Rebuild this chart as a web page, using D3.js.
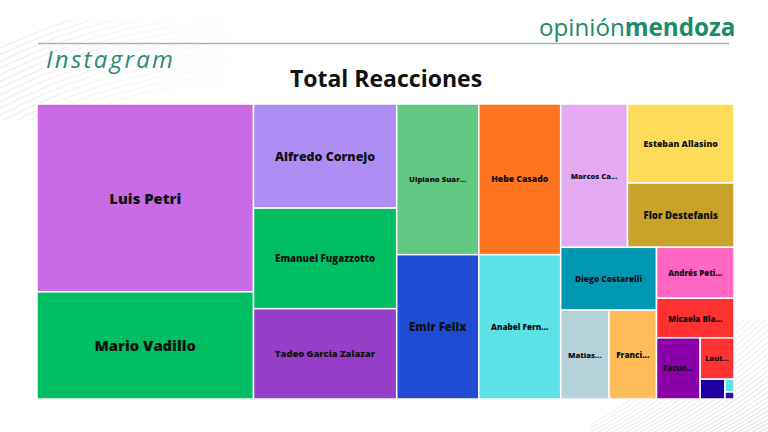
<!DOCTYPE html>
<html>
<head>
<meta charset="utf-8">
<script src="https://cdn.jsdelivr.net/npm/d3@7"></script>
<style>
  html, body { margin: 0; padding: 0; background: #ffffff; }
  svg { display: block; }
</style>
</head>
<body>
<svg id="chart" width="768" height="432"></svg>
<script>
// ---- data ----
const candidates = [
  "Luis Petri", "Mario Vadillo", "Alfredo Cornejo", "Emanuel Fugazzotto",
  "Tadeo Garcia Zalazar", "Ulpiano Suar...", "Hebe Casado", "Emir Felix",
  "Anabel Fern...", "Marcos Ca...", "Esteban Allasino", "Flor Destefanis",
  "Diego Costarelli", "Matias...", "Franci...", "Andrés Peti...",
  "Micaela Bla...", "Facun...", "Laut...", "Otro 1", "Otro 2", "Otro 3"
];
const reacciones = [
  39551, 22577, 14501, 14012,
  12579, 12030, 12006, 11515,
  11504, 9312, 8183, 6661,
  5860, 4172, 4103, 3836,
  2985, 2601, 1361, 478, 112, 61
];
const palette = [
  "#c86ce6", "#00bf63", "#ae8ef5", "#00bf63",
  "#953fc9", "#63c884", "#ff7420", "#1f4cd3",
  "#5ce1e6", "#e3a9f1", "#ffdb5a", "#c9a22a",
  "#0097b2", "#b4d0d8", "#ffbd59", "#ff66c4",
  "#ff3131", "#8a00a8", "#ff3333", "#1e00a0", "#5ce1e6", "#2a10a8"
];
const chartTitle = "Total Reacciones";
const network = "Instagram";

// ---- drawing ----
const svg = d3.select("#chart");

// decorative background lines
const defs = svg.append("defs");
const g1 = defs.append("linearGradient").attr("id", "fadeTL").attr("x1", 0).attr("y1", 0).attr("x2", 1).attr("y2", 0);
g1.append("stop").attr("offset", 0).attr("stop-color", "#fff").attr("stop-opacity", 1);
g1.append("stop").attr("offset", 1).attr("stop-color", "#fff").attr("stop-opacity", 0);
defs.append("mask").attr("id", "mTL").attr("maskUnits", "userSpaceOnUse")
  .attr("x", 0).attr("y", 0).attr("width", 768).attr("height", 432)
  .append("rect").attr("x", 0).attr("y", 20).attr("width", 240).attr("height", 100).attr("fill", "url(#fadeTL)");
const g2 = defs.append("linearGradient").attr("id", "fadeBR").attr("x1", 1).attr("y1", 1).attr("x2", 0).attr("y2", 0);
g2.append("stop").attr("offset", 0).attr("stop-color", "#fff").attr("stop-opacity", 1);
g2.append("stop").attr("offset", 1).attr("stop-color", "#fff").attr("stop-opacity", 0);
defs.append("mask").attr("id", "mBR").attr("maskUnits", "userSpaceOnUse")
  .attr("x", 0).attr("y", 0).attr("width", 768).attr("height", 432)
  .append("rect").attr("x", 590).attr("y", 320).attr("width", 178).attr("height", 112).attr("fill", "url(#fadeBR)");

const deco = svg.append("g").attr("fill", "none").attr("stroke", "#dfe3e6").attr("stroke-width", 0.8);
const tl = deco.append("g").attr("mask", "url(#mTL)");
d3.range(0, 16).forEach(i => {
  const r = 520 + i * 6;
  tl.append("circle").attr("cx", 260).attr("cy", 600).attr("r", r);
});
const br = deco.append("g").attr("mask", "url(#mBR)").attr("stroke", "#c9d0d4");
d3.range(0, 30).forEach(i => {
  const x = 560 + i * 7;
  br.append("path").attr("d", `M${x},440 Q${x + 70},410 ${x + 170},320`);
});

// header
svg.append("text")
  .attr("x", 539).attr("y", 36)
  .attr("font-family", "Open Sans").attr("font-size", 24.2)
  .attr("fill", "#1b8a66")
  .call(t => {
    t.append("tspan").attr("font-weight", 400).text("opinión");
    t.append("tspan").attr("font-weight", 700).text("mendoza");
  });
svg.append("line")
  .attr("x1", 38).attr("x2", 729).attr("y1", 43.5).attr("y2", 43.5)
  .attr("stroke", "#9fb6b9").attr("stroke-width", 1.4);
svg.append("text")
  .attr("x", 46).attr("y", 68)
  .attr("font-family", "Open Sans").attr("font-style", "italic").attr("font-size", 24)
  .attr("letter-spacing", 2.3)
  .attr("fill", "#2a8c74")
  .text(network);
svg.append("text")
  .attr("x", 386).attr("y", 87)
  .attr("text-anchor", "middle")
  .attr("font-family", "Open Sans").attr("font-weight", 700).attr("font-size", 23)
  .attr("fill", "#111")
  .text(chartTitle);

// treemap
const items = candidates.map((name, i) => ({ name, value: reacciones[i], color: palette[i] }));
const root = d3.hierarchy({ children: items })
  .sum(d => d.value || 0)
  .sort((a, b) => b.value - a.value);

const tmLeft = 37, tmTop = 104, tmW = 697, tmH = 295;
d3.treemap().tile(d3.treemapBinary).size([tmW, tmH]).round(false)(root);

const cells = svg.append("g").attr("transform", `translate(${tmLeft},${tmTop})`)
  .selectAll("g").data(root.leaves()).join("g");

cells.append("rect")
  .attr("x", d => d.x0).attr("y", d => d.y0)
  .attr("width", d => d.x1 - d.x0).attr("height", d => d.y1 - d.y0)
  .attr("fill", d => d.data.color)
  .attr("stroke", "#ffffff").attr("stroke-width", 1.5);

cells.append("text")
  .attr("x", d => (d.x0 + d.x1) / 2)
  .attr("y", d => (d.y0 + d.y1) / 2)
  .attr("text-anchor", "middle").attr("dominant-baseline", "central")
  .attr("font-family", "Open Sans").attr("font-weight", 800)
  .attr("font-size", 10).attr("fill", "#121212")
  .text(d => d.data.name)
  .each(function (d) {
    const len = this.getComputedTextLength();
    const w = d.x1 - d.x0;
    const fs = Math.min(14.8, 10 * 0.7 * w / len);
    if (fs < 6) { d3.select(this).remove(); return; }
    d3.select(this).attr("font-size", fs);
  });
</script>
</body>
</html>
